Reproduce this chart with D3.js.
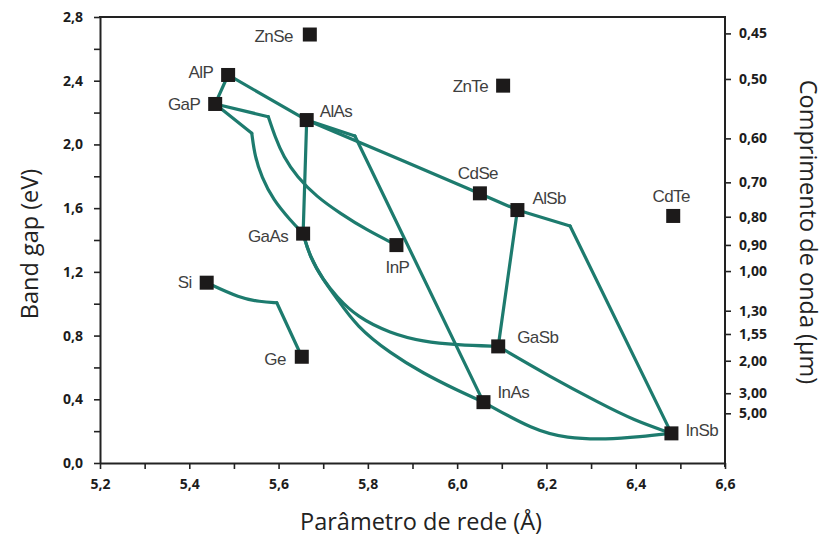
<!DOCTYPE html>
<html>
<head>
<meta charset="utf-8">
<script src="https://cdn.jsdelivr.net/npm/d3@7"></script>
<style>
  html, body { margin: 0; padding: 0; background: #fff; }
  svg { display: block; }
</style>
</head>
<body>
<svg id="chart" width="824" height="538"></svg>
<script>
// Binary compounds and elements: lattice constant (Å) and band gap (eV)
const names   = ["ZnSe", "AlP", "GaP", "AlAs", "GaAs", "InP", "ZnTe", "CdSe", "AlSb", "CdTe", "Si", "Ge", "GaSb", "InAs", "InSb"];
const lattice = [5.670, 5.487, 5.458, 5.663, 5.655, 5.864, 6.103, 6.051, 6.135, 6.484, 5.439, 5.652, 6.092, 6.059, 6.480];
const bandGap = [2.690, 2.436, 2.254, 2.153, 1.440, 1.368, 2.369, 1.693, 1.588, 1.551, 1.132, 0.667, 0.732, 0.382, 0.186];

// Left and bottom axis ticks
const gapTicks     = [0, 0.2, 0.4, 0.6, 0.8, 1.0, 1.2, 1.4, 1.6, 1.8, 2.0, 2.2, 2.4, 2.6, 2.8];
const latticeTicks = [5.2, 5.3, 5.4, 5.5, 5.6, 5.7, 5.8, 5.9, 6.0, 6.1, 6.2, 6.3, 6.4, 6.5, 6.6];

// Right axis: wavelength labels (µm) and the band-gap level each sits at
const waveLabels = ["0,45", "0,50", "0,60", "0,70", "0,80", "0,90", "1,00", "1,30", "1,55", "2,00", "3,00", "5,00"];
const waveGapPos = [2.697, 2.411, 2.038, 1.762, 1.546, 1.369, 1.205, 0.956, 0.810, 0.642, 0.438, 0.312];

// Ternary alloy curves; each alloy is a list of smooth pieces joined at kinks
const AlGaP   = [[[5.487, 2.436], [5.458, 2.254]]];
const AlPAs   = [[[5.487, 2.436], [5.663, 2.153]]];
const AlGaAs  = [[[5.663, 2.153], [5.655, 1.440]]];
const GaAsP   = [[[5.458, 2.254], [5.540, 2.070]],
                 [[5.540, 2.070], [5.547, 1.923], [5.562, 1.797], [5.588, 1.651], [5.626, 1.525], [5.655, 1.440]]];
const GaInP   = [[[5.458, 2.254], [5.577, 2.174]],
                 [[5.577, 2.174], [5.592, 2.048], [5.611, 1.923], [5.641, 1.797], [5.685, 1.672], [5.738, 1.567], [5.797, 1.463], [5.864, 1.368]]];
const AlInAs  = [[[5.663, 2.153], [5.771, 2.053]], [[5.771, 2.053], [6.059, 0.382]]];
const AlAsSb  = [[[5.663, 2.153], [6.051, 1.693], [6.135, 1.588]]];
const AlInSb  = [[[6.135, 1.588], [6.253, 1.488]], [[6.253, 1.488], [6.480, 0.186]]];
const AlGaSb  = [[[6.135, 1.588], [6.092, 0.732]]];
const GaAsSb  = [[[5.655, 1.440], [5.670, 1.295], [5.700, 1.149], [5.730, 1.044], [5.775, 0.918], [5.850, 0.814], [5.924, 0.761], [5.999, 0.741], [6.092, 0.732]]];
const GaInAs  = [[[5.655, 1.440], [5.670, 1.295], [5.700, 1.149], [5.730, 1.036], [5.775, 0.856], [5.850, 0.689], [5.924, 0.563], [5.999, 0.458], [6.059, 0.382]]];
const GaInSb  = [[[6.092, 0.732], [6.208, 0.542], [6.320, 0.375], [6.395, 0.270], [6.480, 0.186]]];
const InAsSb  = [[[6.059, 0.382], [6.171, 0.207], [6.245, 0.155], [6.335, 0.148], [6.410, 0.165], [6.480, 0.186]]];
const SiGe    = [[[5.439, 1.132], [5.514, 1.034], [5.558, 1.013], [5.596, 1.006]], [[5.596, 1.006], [5.652, 0.667]]];

const alloys = [AlGaP, AlPAs, AlGaAs, GaAsP, GaInP, AlInAs, AlAsSb, AlInSb, AlGaSb, GaAsSb, GaInAs, GaInSb, InAsSb, SiGe];

// Label placement around each marker: [anchor, dx, dy]
const labelPlace = {
  ZnSe: ["end", -17, 1],  AlP:  ["end", -15, -3], GaP:  ["end", -15, 0],
  AlAs: ["start", 13, -9], GaAs: ["end", -15, 2], InP:  ["middle", 1, 22],
  ZnTe: ["end", -15, 0],  CdSe: ["middle", -2, -20], AlSb: ["start", 15, -12],
  CdTe: ["middle", -2, -20], Si: ["end", -15, -1], Ge:  ["end", -16, 2],
  GaSb: ["start", 19, -10], InAs: ["start", 14, -10], InSb: ["start", 14, -3]
};

const svg = d3.select("#chart");
const plotL = 100, plotR = 725, plotT = 17, plotB = 463;

const x = d3.scaleLinear().domain([5.2, 6.6]).range([plotL, plotR]);
const y = d3.scaleLinear().domain([0, 2.8]).range([plotB, plotT]);

const comma = s => s.replace(".", ",");
const tickFont = "'Open Sans', 'DejaVu Sans', sans-serif";

function styleAxis(g) {
  g.select(".domain").attr("stroke", "#222").attr("stroke-width", 2);
  g.selectAll(".tick line").attr("stroke", "#222").attr("stroke-width", 1.6);
  g.selectAll(".tick text")
    .attr("fill", "#1c1c1c")
    .style("font-family", tickFont)
    .style("font-weight", "700")
    .style("font-size", "14px");
}

// Left axis: band gap
svg.append("g")
  .attr("transform", `translate(${plotL},0)`)
  .call(d3.axisLeft(y).tickValues(gapTicks).tickSize(6).tickSizeOuter(0).tickPadding(11)
        .tickFormat((d, i) => i % 2 === 0 ? comma(d3.format(".1f")(d)) : ""))
  .call(styleAxis);

// Bottom axis: lattice parameter
svg.append("g")
  .attr("transform", `translate(0,${plotB})`)
  .call(d3.axisBottom(x).tickValues(latticeTicks).tickSize(6).tickSizeOuter(0).tickPadding(10)
        .tickFormat((d, i) => i % 2 === 0 ? comma(d3.format(".1f")(d)) : ""))
  .call(styleAxis);

// Right axis: wavelength
const rightAxis = svg.append("g")
  .attr("transform", `translate(${plotR},0)`)
  .call(d3.axisRight(y).tickValues(waveGapPos).tickSize(6).tickSizeOuter(0).tickPadding(8)
        .tickFormat((d, i) => waveLabels[i]))
  .call(styleAxis);
rightAxis.select(".domain").attr("d", `M0,${plotT}V${plotB + 4}`);

// Top frame line
svg.append("line")
  .attr("x1", plotL - 1).attr("x2", plotR + 1)
  .attr("y1", plotT).attr("y2", plotT)
  .attr("stroke", "#222").attr("stroke-width", 2);

// Alloy curves (B-spline smoothing inside each piece; pieces meet at kinks)
const line = d3.line()
  .x(d => x(d[0])).y(d => y(d[1]))
  .curve(d3.curveBasis);

const curveG = svg.append("g")
  .attr("fill", "none")
  .attr("stroke", "#1d7b6e")
  .attr("stroke-width", 3.2)
  .attr("stroke-linejoin", "round")
  .attr("stroke-linecap", "round");

alloys.forEach(pieces => {
  pieces.forEach(p => curveG.append("path").attr("d", line(p)));
});

// Markers
const compounds = names.map((n, i) => ({ name: n, a: lattice[i], eg: bandGap[i] }));
const size = 14;

svg.append("g").selectAll("rect")
  .data(compounds)
  .join("rect")
  .attr("x", d => x(d.a) - size / 2)
  .attr("y", d => y(d.eg) - size / 2)
  .attr("width", size).attr("height", size)
  .attr("fill", "#1c1a1a");

// Compound labels
svg.append("g").selectAll("text")
  .data(compounds)
  .join("text")
  .attr("x", d => x(d.a) + labelPlace[d.name][1])
  .attr("y", d => y(d.eg) + labelPlace[d.name][2])
  .attr("dy", "0.36em")
  .attr("text-anchor", d => labelPlace[d.name][0])
  .attr("fill", "#3f3f3f")
  .style("font-family", "'Liberation Sans', Arial, sans-serif")
  .style("font-size", "17px")
  .style("letter-spacing", "-0.6px")
  .text(d => d.name);

// Axis titles
const titleFont = "'Open Sans', 'DejaVu Sans', sans-serif";

svg.append("text")
  .attr("transform", `translate(38,244) rotate(-90)`)
  .attr("text-anchor", "middle")
  .attr("fill", "#222")
  .style("font-family", titleFont)
  .style("font-size", "23.5px")
  .text("Band gap (eV)");

svg.append("text")
  .attr("x", 421).attr("y", 530)
  .attr("text-anchor", "middle")
  .attr("fill", "#222")
  .style("font-family", titleFont)
  .style("font-size", "23.5px")
  .text("Parâmetro de rede (Å)");

svg.append("text")
  .attr("transform", `translate(800,232) rotate(90)`)
  .attr("text-anchor", "middle")
  .attr("fill", "#222")
  .style("font-family", titleFont)
  .style("font-size", "23.5px")
  .text("Comprimento de onda (µm)");
</script>
</body>
</html>
